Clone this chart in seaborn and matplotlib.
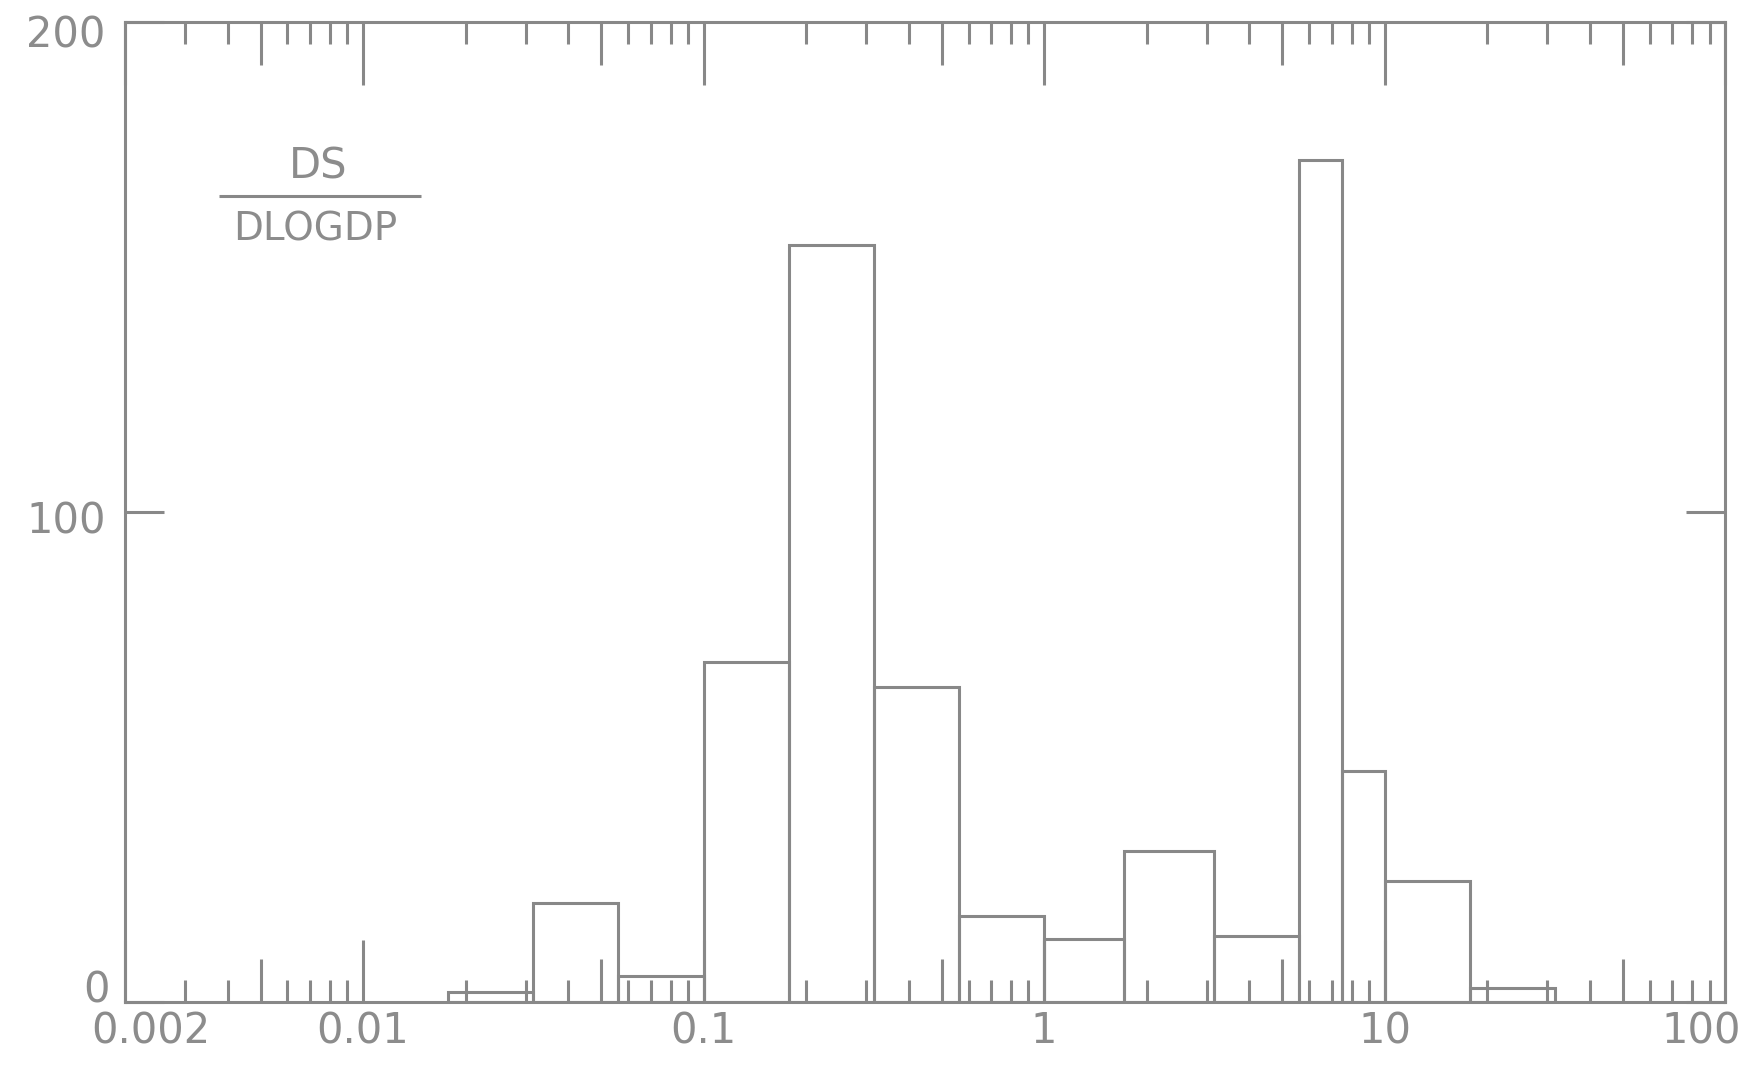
import numpy as np
import pandas as pd
import matplotlib
matplotlib.use("Agg")
import matplotlib.pyplot as plt
import matplotlib.transforms as mtransforms
from matplotlib.ticker import NullFormatter
import seaborn as sns

# ---- data ----
bin_edges = [0.0178, 0.0316, 0.0562, 0.1, 0.178, 0.316, 0.562, 1.0,
             1.72, 3.16, 5.62, 7.5, 10.0, 17.8, 31.6]
ds_dlogdp = [2.0, 20.3, 5.3, 69.3, 154.5, 64.2, 17.6, 12.9,
             30.8, 13.4, 171.9, 47.2, 24.6, 2.9]
x_tick_values = [0.002, 0.01, 0.1, 1, 10, 100]
x_tick_labels = ["0.002", "0.01", "0.1", "1", "10", "100"]
y_tick_values = [0, 100, 200]
y_tick_labels = ["0", "100", "200"]

GRAY = "#888888"
TXT = "#8c8c8c"
LW = 2.2
FS = 30

sns.set_style("white")
plt.rcParams["font.family"] = ["DejaVu Sans"]

edges = np.array(bin_edges)
centers = np.sqrt(edges[:-1] * edges[1:])
df = pd.DataFrame({"dp": centers, "w": ds_dlogdp})

fig = plt.figure(figsize=(17.56, 10.67), dpi=100)
ax = fig.add_axes([0.0712, 0.0609, 0.9112, 0.9185])

sns.histplot(data=df, x="dp", weights="w", bins=[float(b) for b in np.log10(edges)],
             log_scale=True, fill=False, element="bars",
             color=GRAY, linewidth=LW, ax=ax)

ax.set_xlim(0.002, 100)
ax.set_ylim(0, 200)
ax.set_xlabel("")
ax.set_ylabel("")

for s in ax.spines.values():
    s.set_visible(True)
    s.set_color(GRAY)
    s.set_linewidth(LW)

# x major ticks: decades (long) and half-decades (medium)
half = [0.005, 0.05, 0.5, 5, 50]
major = sorted(x_tick_values + half)
labels = []
for v in major:
    labels.append(x_tick_labels[x_tick_values.index(v)] if v in x_tick_values else "")
ax.set_xticks(major, labels)
minor = []
for d in [0.001, 0.01, 0.1, 1, 10]:
    for m in [2, 3, 4, 6, 7, 8, 9]:
        v = m * d
        if 0.002 < v < 100:
            minor.append(v)
ax.set_xticks(minor, minor=True)
ax.xaxis.set_minor_formatter(NullFormatter())

ax.tick_params(axis="x", which="both", direction="in", top=True, bottom=True,
               color=GRAY, width=LW, labelsize=FS, labelcolor=TXT, pad=6)
ax.tick_params(axis="x", which="minor", length=16)
ax.tick_params(axis="x", which="major", length=45)
for v, t in zip(major, ax.xaxis.get_major_ticks()):
    L = 45 if v in x_tick_values else 31
    t.tick1line.set_markersize(L)
    t.tick2line.set_markersize(L)

ax.set_yticks(y_tick_values, y_tick_labels)
ax.tick_params(axis="y", which="major", direction="in", left=True, right=True,
               length=28, color=GRAY, width=LW, labelsize=FS, labelcolor=TXT, pad=14)
ax.yaxis.set_minor_locator(matplotlib.ticker.NullLocator())

# small label offsets as in the reference
for lab in ax.get_xticklabels():
    if lab.get_text() == "0.002":
        lab.set_transform(lab.get_transform() + mtransforms.ScaledTranslation(0.26, 0, fig.dpi_scale_trans))
    if lab.get_text() == "100":
        lab.set_transform(lab.get_transform() + mtransforms.ScaledTranslation(-0.24, 0, fig.dpi_scale_trans))
for lab in ax.get_yticklabels():
    if lab.get_text() == "200":
        lab.set_transform(lab.get_transform() + mtransforms.ScaledTranslation(0, -0.09, fig.dpi_scale_trans))
    if lab.get_text() == "0":
        lab.set_transform(lab.get_transform() + mtransforms.ScaledTranslation(0.04, 0.16, fig.dpi_scale_trans))
    if lab.get_text() == "100":
        lab.set_transform(lab.get_transform() + mtransforms.ScaledTranslation(0, -0.05, fig.dpi_scale_trans))

# DS / DLOGDP label
ax.text(0.121, 0.853, "DS", transform=ax.transAxes, ha="center", va="center",
        fontsize=FS, color=TXT)
ax.plot([0.059, 0.185], [0.8224, 0.8224], transform=ax.transAxes,
        color=GRAY, linewidth=LW, solid_capstyle="butt")
ax.text(0.119, 0.788, "DLOGDP", transform=ax.transAxes, ha="center", va="center",
        fontsize=FS - 2, color=TXT)

fig.savefig("out.png", dpi=100, facecolor="white")
